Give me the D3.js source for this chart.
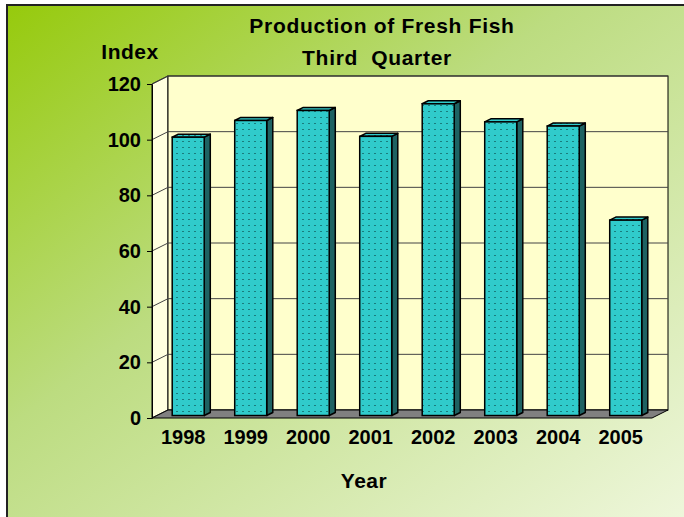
<!DOCTYPE html>
<html>
<head>
<meta charset="utf-8">
<script src="https://cdn.jsdelivr.net/npm/d3@7"></script>
<style>
  body { margin: 0; background: #fff; }
  text { font-family: Arial, "Liberation Sans", sans-serif; font-weight: bold; fill: #000; }
</style>
</head>
<body>
<div id="chart"></div>
<script>
const years = ["1998", "1999", "2000", "2001", "2002", "2003", "2004", "2005"]
const indexValues = [100, 106, 109.6, 100.3, 112, 105.5, 104, 70.2]
const yTicks = [0, 20, 40, 60, 80, 100, 120]
const titleLines = ["Production of Fresh Fish", "Third  Quarter"]

function drawFishChart(){
    let width = 684
    let height = 517
    let front = {left: 152, right: 652, top: 84, bottom: 418}
    let depth = {x: 16, y: -8}
    let barFront = 0.31, barBack = 0.69

    let svg = d3.select("#chart")
        .append("svg")
            .attr("width", width)
            .attr("height", height)

    let defs = svg.append("defs")
    let grad = defs.append("linearGradient")
        .attr("id", "bg")
        .attr("x1", 0).attr("y1", 0).attr("x2", 1).attr("y2", 1)
    grad.append("stop").attr("offset", 0).attr("stop-color", "#96ca0c")
    grad.append("stop").attr("offset", 0.4).attr("stop-color", "#bcdc80")
    grad.append("stop").attr("offset", 1).attr("stop-color", "#f1f8e0")

    let pat = defs.append("pattern")
        .attr("id", "dots")
        .attr("patternUnits", "userSpaceOnUse")
        .attr("width", 6).attr("height", 6)
    pat.append("rect").attr("width", 6).attr("height", 6).attr("fill", "#30cbcb")
    pat.append("rect").attr("x", 2).attr("y", 3).attr("width", 2).attr("height", 1).attr("fill", "#1a7d7d")

    // background frame
    svg.append("rect")
        .attr("x", 7).attr("y", 5)
        .attr("width", 700).attr("height", 530)
        .attr("fill", "url(#bg)")
        .attr("stroke", "#222")
        .attr("stroke-width", 2)

    let x = d3.scaleBand()
        .domain(years)
        .range([front.left, front.right])
        .paddingInner(0.488)
        .paddingOuter(0.244)
    let y = d3.scaleLinear()
        .domain([0, 120])
        .range([front.bottom, front.top])

    let pts = p => p.map(d => d.join(",")).join(" ")

    // side wall
    svg.append("polygon")
        .attr("points", pts([[front.left, front.top], [front.left + depth.x, front.top + depth.y],
            [front.left + depth.x, front.bottom + depth.y], [front.left, front.bottom]]))
        .attr("fill", "#ffffe0")
        .attr("stroke", "#000")
        .attr("stroke-width", 1)

    // back wall
    svg.append("rect")
        .attr("x", front.left + depth.x)
        .attr("y", front.top + depth.y)
        .attr("width", front.right - front.left)
        .attr("height", front.bottom - front.top)
        .attr("fill", "#ffffcc")
        .attr("stroke", "#000")
        .attr("stroke-width", 1)

    // gridlines on back wall and side wall
    svg.selectAll(".grid")
        .data(yTicks)
        .enter()
        .append("polyline")
            .attr("class", "grid")
            .attr("points", d => pts([[front.left, y(d)], [front.left + depth.x, y(d) + depth.y],
                [front.right + depth.x, y(d) + depth.y]]))
            .attr("fill", "none")
            .attr("stroke", "#444")
            .attr("stroke-width", 1)

    // floor
    svg.append("polygon")
        .attr("points", pts([[front.left, front.bottom], [front.right, front.bottom],
            [front.right + depth.x, front.bottom + depth.y], [front.left + depth.x, front.bottom + depth.y]]))
        .attr("fill", "#808080")
        .attr("stroke", "#000")
        .attr("stroke-width", 1)

    // bars
    let fx = depth.x * barFront, fy = depth.y * barFront
    let bdx = depth.x * (barBack - barFront), bdy = depth.y * (barBack - barFront)
    let bars = svg.selectAll(".bar")
        .data(years.map((yr, i) => ({year: yr, value: indexValues[i]})))
        .enter()
        .append("g")
            .attr("class", "bar")

    bars.append("polygon")
        .attr("points", function(d){
            let x0 = x(d.year) + fx + x.bandwidth(), y0 = y(d.value) + fy, y1 = y(0) + fy
            return pts([[x0, y0], [x0 + bdx, y0 + bdy], [x0 + bdx, y1 + bdy], [x0, y1]])
        })
        .attr("fill", "#1e6262")
        .attr("stroke", "#000")
        .attr("stroke-width", 1.5)
        .attr("stroke-linejoin", "round")

    bars.append("polygon")
        .attr("points", function(d){
            let x0 = x(d.year) + fx, x1 = x0 + x.bandwidth(), y0 = y(d.value) + fy
            return pts([[x0, y0], [x0 + bdx, y0 + bdy], [x1 + bdx, y0 + bdy], [x1, y0]])
        })
        .attr("fill", "url(#dots)")
        .attr("stroke", "#000")
        .attr("stroke-width", 1.5)
        .attr("stroke-linejoin", "round")

    bars.append("rect")
        .attr("x", d => x(d.year) + fx)
        .attr("y", d => y(d.value) + fy)
        .attr("width", x.bandwidth())
        .attr("height", d => y(0) - y(d.value))
        .attr("fill", "url(#dots)")
        .attr("stroke", "#000")
        .attr("stroke-width", 1.5)

    // axes
    let yAxis = svg.append("g")
        .attr("transform", `translate(${front.left},0)`)
        .call(d3.axisLeft(y).tickValues(yTicks).tickSize(5).tickSizeOuter(0).tickPadding(6))
    yAxis.selectAll("line, path").attr("stroke", "#000")
    yAxis.selectAll("text").attr("font-size", 20).attr("font-family", null)

    let xAxis = svg.append("g")
        .attr("transform", `translate(0,${front.bottom})`)
        .call(d3.axisBottom(x).tickSize(0).tickPadding(12))
    xAxis.select(".domain").remove()
    xAxis.selectAll("text").attr("font-size", 20).attr("font-family", null)

    // titles
    svg.selectAll(".title")
        .data(titleLines)
        .enter()
        .append("text")
            .attr("class", "title")
            .attr("x", (d, i) => i == 0 ? 382 : 377)
            .attr("y", (d, i) => 33 + i * 32)
            .attr("text-anchor", "middle")
            .attr("font-size", 21)
            .attr("letter-spacing", 0.7)
            .style("white-space", "pre")
            .text(d => d)

    svg.append("text")
        .attr("x", 130).attr("y", 59)
        .attr("text-anchor", "middle")
        .attr("font-size", 21)
        .attr("letter-spacing", 0.5)
        .text("Index")

    svg.append("text")
        .attr("x", 364).attr("y", 488)
        .attr("text-anchor", "middle")
        .attr("font-size", 21)
        .attr("letter-spacing", 0.5)
        .text("Year")
}
drawFishChart()
</script>
</body>
</html>
